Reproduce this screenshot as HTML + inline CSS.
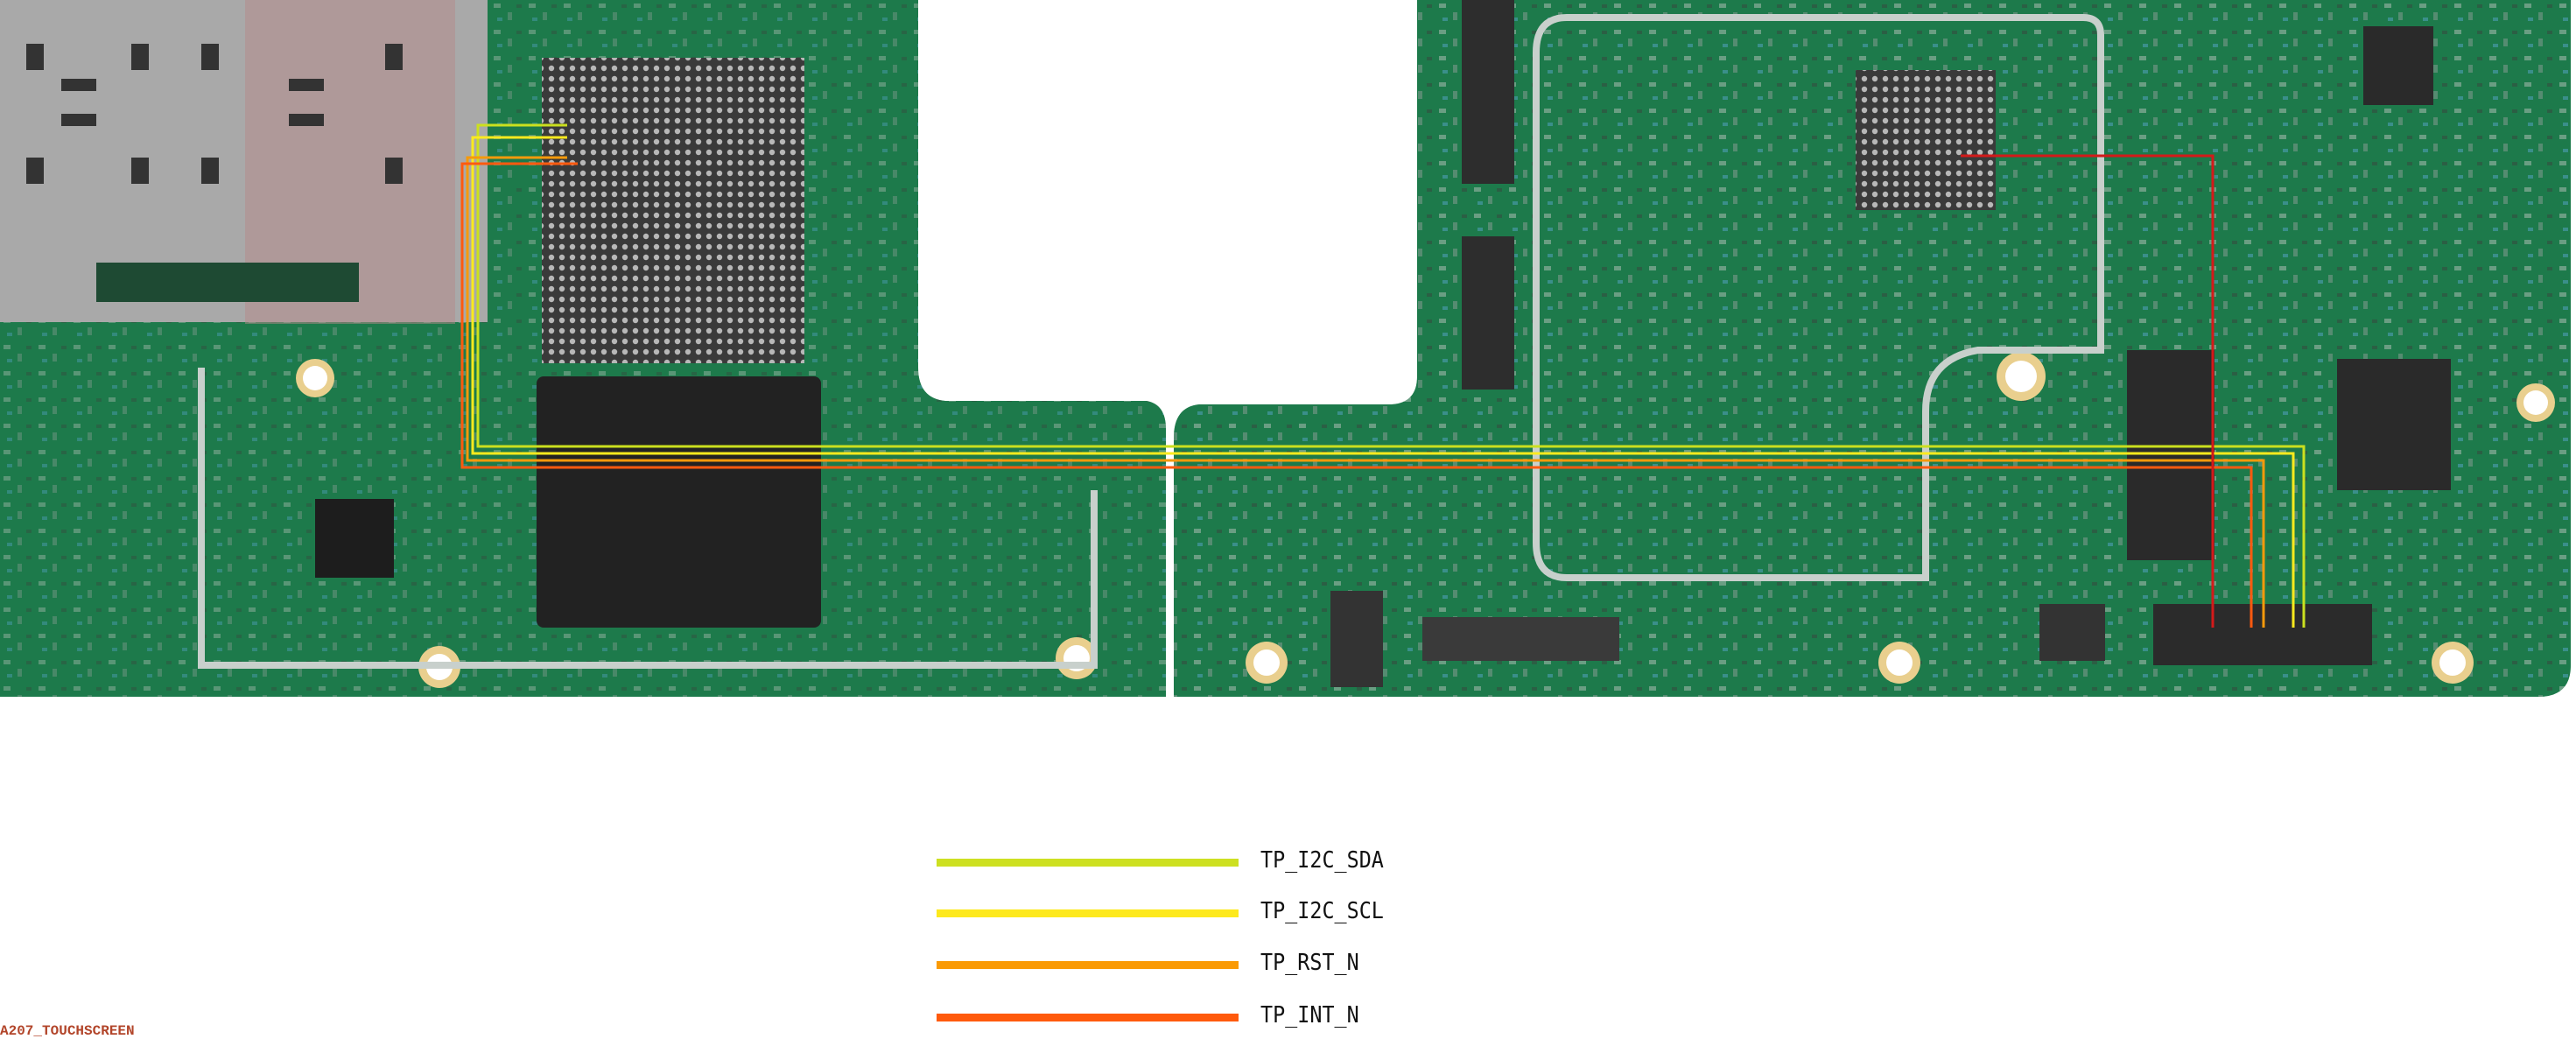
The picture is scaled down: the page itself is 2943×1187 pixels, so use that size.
<!DOCTYPE html>
<html><head><meta charset="utf-8"><style>
html,body{margin:0;padding:0;background:#fff;width:2943px;height:1179px;overflow:hidden}
.t{position:absolute;font-family:"DejaVu Sans Mono","Liberation Mono",monospace;font-size:26px;color:#111;transform:scaleX(0.9);transform-origin:left}
</style></head><body>
<svg width="2943" height="1179" style="position:absolute;left:0;top:0">
<defs>
<pattern id="dots" width="12" height="12" patternUnits="userSpaceOnUse"><rect width="12" height="12" fill="#3a3a3a"/><circle cx="6" cy="6" r="3.2" fill="#b8b8b8"/></pattern>
<pattern id="comp" width="40" height="30" patternUnits="userSpaceOnUse"><rect width="40" height="30" fill="#1f7a4c"/><rect x="4" y="4" width="8" height="5" fill="#c9c9c9"/><rect x="20" y="14" width="5" height="9" fill="#9aa3a0"/><rect x="30" y="5" width="6" height="4" fill="#3d3d3d"/><rect x="8" y="20" width="6" height="4" fill="#5fa9d8"/></pattern>
<clipPath id="lb"><path d="M0 0 H1049 V420 Q1049 455 1080 458 H1310 Q1332 462 1332 490 V796 H0 Z"/></clipPath>
<clipPath id="rb"><path d="M1619 0 H2937 V760 Q2937 796 2900 796 H1341 V500 Q1341 465 1370 462 H1590 Q1619 460 1619 430 Z"/></clipPath>
</defs>
<!-- left board -->
<path d="M0 0 H1049 V420 Q1049 455 1080 458 H1310 Q1332 462 1332 490 V796 H0 Z" fill="#1c7a4a"/>
<rect x="0" y="0" width="1332" height="796" fill="url(#comp)" opacity="0.35" clip-path="url(#lb)"/>
<!-- right board -->
<path d="M1619 0 H2937 V760 Q2937 796 2900 796 H1341 V500 Q1341 465 1370 462 H1590 Q1619 460 1619 430 Z" fill="#1c7a4a"/>
<rect x="1341" y="0" width="1600" height="796" fill="url(#comp)" opacity="0.45" clip-path="url(#rb)"/>
<!-- sim tray -->
<rect x="0" y="0" width="557" height="368" fill="#a9a9a9"/>
<rect x="280" y="0" width="240" height="370" fill="#b68a8a" opacity="0.5"/>
<rect x="110" y="300" width="300" height="45" fill="#1e4a33"/>
<g fill="#333">
<rect x="70" y="90" width="40" height="14"/><rect x="70" y="130" width="40" height="14"/><rect x="330" y="90" width="40" height="14"/><rect x="330" y="130" width="40" height="14"/>
<rect x="30" y="50" width="20" height="30"/><rect x="150" y="50" width="20" height="30"/><rect x="230" y="50" width="20" height="30"/><rect x="440" y="50" width="20" height="30"/>
<rect x="30" y="180" width="20" height="30"/><rect x="150" y="180" width="20" height="30"/><rect x="230" y="180" width="20" height="30"/><rect x="440" y="180" width="20" height="30"/>
</g>
<!-- chips -->
<rect x="619" y="66" width="300" height="349" fill="url(#dots)"/>
<rect x="613" y="430" width="325" height="287" rx="8" fill="#222"/>
<rect x="2120" y="80" width="160" height="160" fill="url(#dots)"/>
<rect x="2430" y="400" width="100" height="240" fill="#2a2a2a"/>
<rect x="2670" y="410" width="130" height="150" fill="#2a2a2a"/>
<rect x="2700" y="30" width="80" height="90" fill="#2a2a2a"/>
<rect x="360" y="570" width="90" height="90" fill="#1d1d1d"/>
<rect x="1670" y="0" width="60" height="210" fill="#2d2d2d"/><rect x="1670" y="270" width="60" height="175" fill="#2d2d2d"/>
<rect x="2460" y="690" width="250" height="70" fill="#2b2b2b"/>
<rect x="1625" y="705" width="225" height="50" fill="#3a3a3a"/>
<rect x="1520" y="675" width="60" height="110" fill="#333"/>
<rect x="2330" y="690" width="75" height="65" fill="#333"/>
<!-- light pads -->
<g fill="#e9cf8e"><circle cx="360" cy="432" r="22"/><circle cx="502" cy="762" r="24"/><circle cx="1230" cy="752" r="24"/><circle cx="1447" cy="757" r="24"/><circle cx="2170" cy="757" r="24"/><circle cx="2309" cy="430" r="28"/><circle cx="2802" cy="757" r="24"/><circle cx="2897" cy="460" r="22"/></g>
<g fill="#fff"><circle cx="360" cy="432" r="14"/><circle cx="502" cy="762" r="15"/><circle cx="1230" cy="752" r="15"/><circle cx="1447" cy="757" r="15"/><circle cx="2170" cy="757" r="15"/><circle cx="2309" cy="430" r="18"/><circle cx="2802" cy="757" r="15"/><circle cx="2897" cy="460" r="14"/></g>
<!-- silver outlines -->
<g fill="none" stroke="#c8d0cc" stroke-width="8">
<path d="M1755 60 V620 Q1755 660 1790 660 H2200 V470 Q2200 410 2260 400 H2400 V40 Q2400 20 2380 20 H1790 Q1755 20 1755 60"/>
<path d="M230 420 V760 H1250 V560"/>
</g>
<!-- traces -->
<g fill="none" stroke-width="3">
<polyline points="648,143 546,143 546,510 2632,510 2632,717" stroke="#cbe01f"/>
<polyline points="648,157 540,157 540,518 2620,518 2620,717" stroke="#fcea1e"/>
<polyline points="648,180 534,180 534,526 2586,526 2586,717" stroke="#f59a0b"/>
<polyline points="660,187 528,187 528,534 2572,534 2572,717" stroke="#ff5a0f"/>
<polyline points="2240,178 2528,178 2528,717" stroke="#d31a1a"/>
</g>
<!-- legend -->
<rect x="1070" y="981" width="345" height="9" fill="#cde021"/>
<rect x="1070" y="1039" width="345" height="9" fill="#fde91d"/>
<rect x="1070" y="1098" width="345" height="9" fill="#fa9a05"/>
<rect x="1070" y="1158" width="345" height="9" fill="#ff5a0c"/>
</svg>
<div class="t" style="left:1440px;top:968px">TP_I2C_SDA</div>
<div class="t" style="left:1440px;top:1026px">TP_I2C_SCL</div>
<div class="t" style="left:1440px;top:1085px">TP_RST_N</div>
<div class="t" style="left:1440px;top:1145px">TP_INT_N</div>
<div style="position:absolute;left:0;top:1169px;font-family:'Liberation Mono',monospace;font-size:16px;font-weight:bold;color:#b2452a">A207_TOUCHSCREEN</div>
</body></html>
